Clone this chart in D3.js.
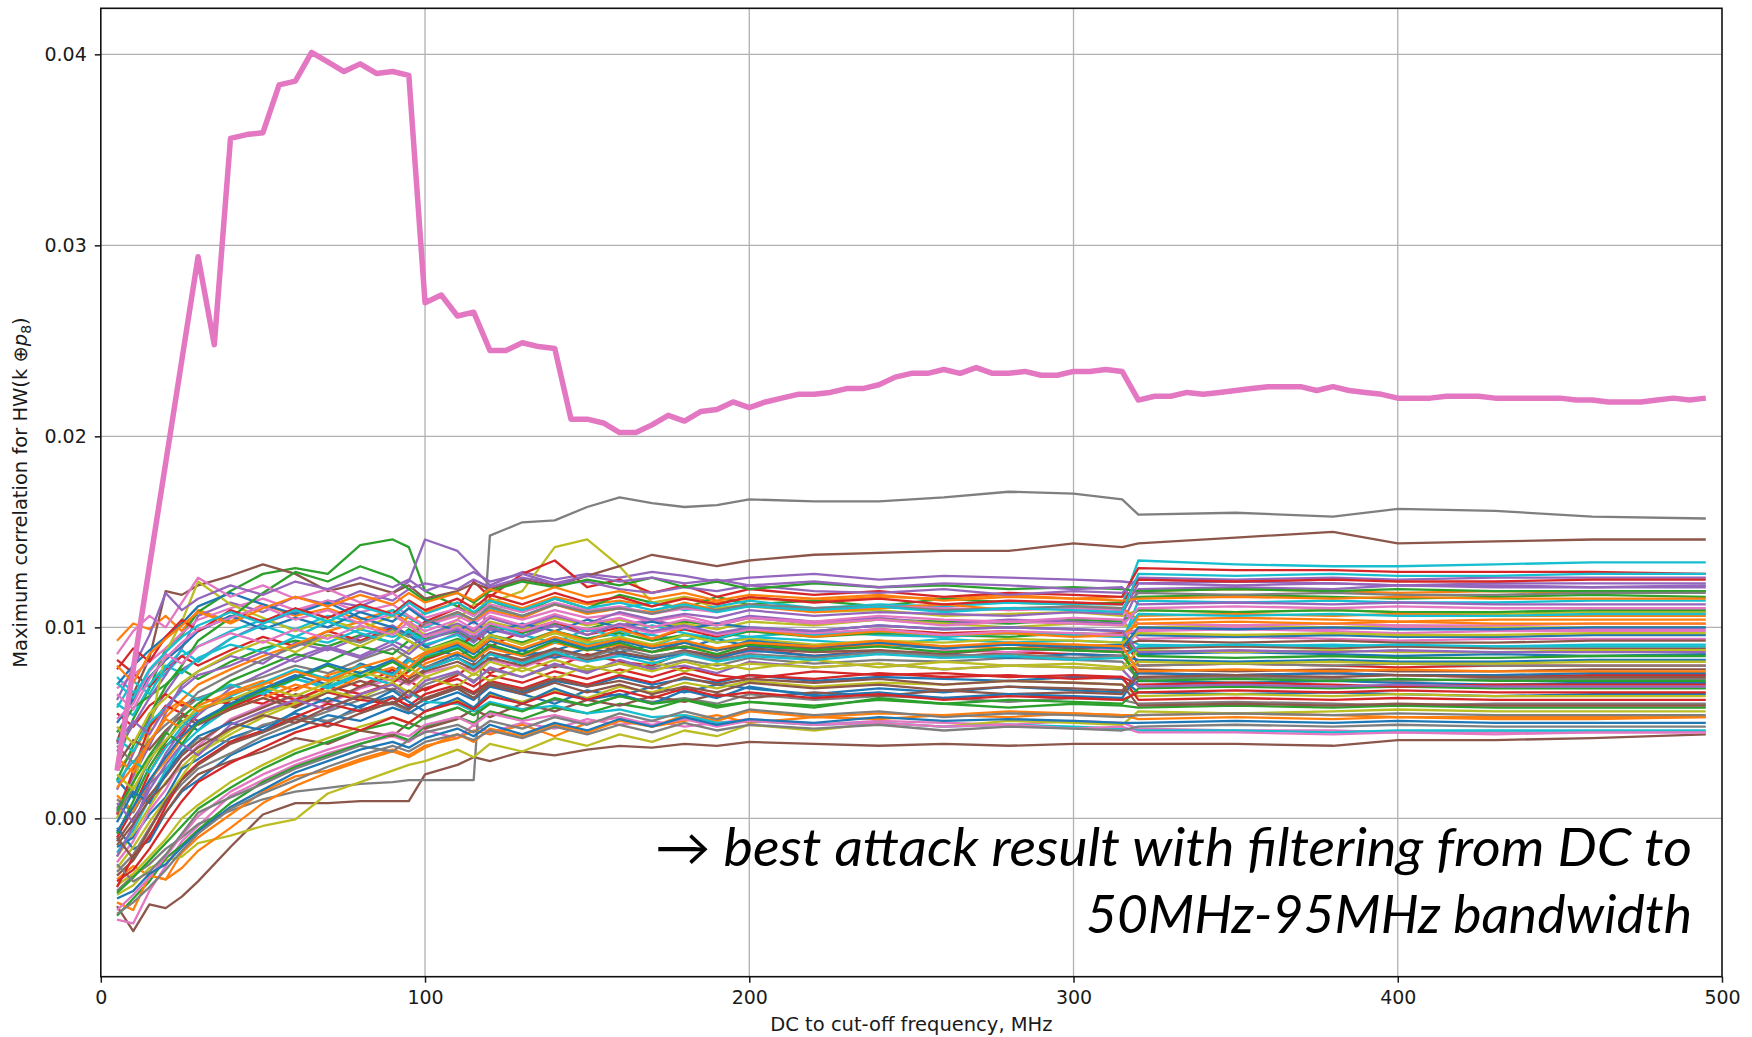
<!DOCTYPE html>
<html>
<head>
<meta charset="utf-8">
<script src="https://cdn.jsdelivr.net/npm/d3@7"></script>
<style>
  body { margin: 0; background: #fff; }
  svg { display: block; }
  .axis text { font-family: "DejaVu Sans", sans-serif; font-size: 19px; fill: #1a1a1a; }
  .axis path, .axis line { stroke: #1a1a1a; }
</style>
</head>
<body>
<div id="chart"></div>
<script>
// cut-off frequencies (MHz) of the correct key guess trace
const keyFreqs = [
  5, 10, 15, 20, 25, 30, 35, 40, 45, 50, 55, 60, 65, 70, 75, 80, 85, 90, 95, 100,
  105, 110, 115, 120, 125, 130, 135, 140, 145, 150, 155, 160, 165, 170, 175, 180, 185, 190, 195, 200,
  205, 210, 215, 220, 225, 230, 235, 240, 245, 250, 255, 260, 265, 270, 275, 280, 285, 290, 295, 300,
  305, 310, 315, 320, 325, 330, 335, 340, 345, 350, 355, 360, 365, 370, 375, 380, 385, 390, 395, 400,
  405, 410, 415, 420, 425, 430, 435, 440, 445, 450, 455, 460, 465, 470, 475, 480, 485, 490, 495
];
const keyCorr = [
  .0025, .0078, .0132, .0186, .0240, .0294, .0248, .0356, .0358, .0359, .0384, .0386, .0401, .0396, .0391, .0395, .0390, .0391, .0389, .0270,
  .0274, .0263, .0265, .0245, .0245, .0249, .0247, .0246, .0209, .0209, .0207, .0202, .0202, .0206, .0211, .0208, .0213, .0214, .0218, .0215,
  .0218, .0220, .0222, .0222, .0223, .0225, .0225, .0227, .0231, .0233, .0233, .0235, .0233, .0236, .0233, .0233, .0234, .0232, .0232, .0234,
  .0234, .0235, .0234, .0219, .0221, .0221, .0223, .0222, .0223, .0224, .0225, .0226, .0226, .0226, .0224, .0226, .0224, .0223, .0222, .0220,
  .0220, .0220, .0221, .0221, .0221, .0220, .0220, .0220, .0220, .0220, .0219, .0219, .0218, .0218, .0218, .0219, .0220, .0219, .0220
];

// wrong key guesses, read at a coarser set of frequencies
const guessFreqs = [5, 10, 15, 20, 25, 30, 40, 50, 60, 70, 80, 90, 95, 100,
  110, 115, 120, 130, 140, 150, 160, 170, 180, 190, 200, 220, 240, 260, 280, 300, 315,
  320, 350, 380, 400, 430, 460, 495];
const guessUnit = 1e-3; // values below are correlation x 1000
const guessCorr = [
  [2.0, 1.1, 3.2, 4.0, 5.1, 4.6, 6.2, 6.8, 7.5, 7.0, 8.1, 7.6, 8.4, 7.9, 8.6, 8.2, 9.0, 8.5, 8.8, 9.3, 8.7, 9.1, 8.9, 9.4, 9.0, 8.8, 9.1, 8.9, 9.2, 9.0, 9.1, 8.6, 8.7, 8.6, 8.5, 8.6, 8.5, 8.6],
  [9.3, 10.2, 9.9, 10.6, 9.8, 10.9, 10.3, 11.2, 10.6, 11.0, 10.4, 10.9, 10.2, 10.8, 11.3, 10.7, 11.5, 11.0, 11.6, 11.2, 11.4, 11.1, 11.6, 11.3, 11.5, 11.4, 11.6, 11.5, 11.7, 11.5, 11.6, 11.9, 12.0, 11.9, 11.8, 11.9, 11.8, 11.9],
  [3.0, 5.2, 6.8, 8.9, 9.6, 10.8, 11.9, 12.8, 13.1, 12.8, 14.3, 14.6, 14.2, 11.9, 11.1, 10.6, 11.4, 10.8, 11.5, 11.0, 11.7, 11.3, 11.0, 11.6, 11.2, 11.4, 11.1, 11.5, 11.3, 11.2, 11.3, 11.6, 11.7, 11.6, 11.5, 11.6, 11.7, 11.6],
  [-1.0, 0.5, 2.4, 3.8, 4.4, 5.6, 6.3, 6.0, 6.8, 7.4, 6.9, 7.8, 7.2, 6.7, 7.5, 8.1, 7.6, 8.3, 7.9, 8.6, 8.2, 8.0, 8.7, 8.3, 8.9, 8.5, 8.8, 8.4, 8.7, 8.6, 8.5, 7.6, 7.5, 7.6, 7.5, 7.4, 7.5, 7.5],
  [1.5, 3.4, 5.2, 6.6, 7.8, 8.3, 9.4, 10.2, 10.8, 11.4, 11.1, 11.8, 12.4, 14.6, 14.0, 13.1, 12.2, 12.9, 12.5, 12.8, 12.6, 12.9, 12.7, 12.4, 12.6, 12.8, 12.5, 12.7, 12.6, 12.5, 12.4, 12.3, 12.2, 12.3, 12.2, 12.2, 12.1, 12.2],
  [-4.6, -5.9, -4.5, -4.7, -4.1, -3.3, -1.5, 0.2, 0.8, 0.8, 0.9, 0.9, 0.9, 2.3, 2.8, 3.2, 3.0, 3.5, 3.3, 3.6, 3.8, 3.7, 3.9, 3.8, 4.0, 3.9, 3.8, 3.9, 3.8, 3.9, 3.9, 3.9, 3.9, 3.8, 4.1, 4.1, 4.2, 4.4],
  [-5.3, -5.5, -3.8, -2.5, -1.2, -0.4, 1.2, 2.0, 2.8, 3.4, 3.9, 4.3, 4.0, 4.6, 4.2, 4.9, 4.5, 5.0, 4.7, 5.2, 4.9, 5.1, 4.8, 5.0, 5.2, 4.9, 5.1, 5.0, 4.9, 5.1, 5.0, 4.7, 4.6, 4.6, 4.5, 4.5, 4.5, 4.5],
  [-3.8, -3.0, -2.4, -1.6, -1.0, -0.3, 0.4, 1.0, 1.4, 1.6, 1.8, 1.9, 2.0, 2.0, 2.0, 2.0, 14.8, 15.5, 15.6, 16.3, 16.8, 16.5, 16.3, 16.4, 16.7, 16.6, 16.6, 16.8, 17.1, 17.0, 16.7, 15.9, 16.0, 15.8, 16.2, 16.1, 15.8, 15.7],
  [-2.0, -0.8, 0.6, 1.9, 2.7, 3.5, 4.6, 5.5, 6.1, 6.9, 7.6, 8.2, 8.8, 9.3, 10.4, 11.2, 11.3, 11.9, 14.2, 14.6, 13.2, 11.3, 11.6, 11.0, 11.2, 10.8, 10.9, 10.6, 10.7, 10.8, 10.6, 10.9, 10.8, 10.9, 10.8, 10.7, 10.8, 10.8],
  [6.0, 5.4, 6.9, 7.6, 8.5, 9.0, 9.8, 10.4, 9.9, 10.6, 10.2, 10.9, 10.5, 10.0, 10.7, 10.4, 11.0, 10.6, 11.2, 10.8, 11.0, 11.3, 10.9, 11.1, 11.4, 11.0, 11.2, 11.1, 11.3, 11.2, 11.2, 13.5, 13.3, 13.2, 13.2, 13.3, 13.4, 13.4],
  [-1.5, -1.0, 0.2, 1.1, 2.6, 3.1, 4.2, 4.8, 5.5, 5.0, 5.9, 6.4, 5.8, 6.2, 6.8, 6.3, 7.0, 6.6, 7.2, 6.9, 7.4, 7.0, 7.3, 7.1, 7.5, 7.2, 7.4, 7.3, 7.2, 7.4, 7.3, 6.6, 6.5, 6.6, 6.5, 6.4, 6.5, 6.5],
  [-3.2, -2.5, -3.0, -3.2, -1.8, -1.0, 0.2, 1.4, 2.2, 2.5, 3.1, 3.6, 3.3, 3.8, 4.2, 4.6, 4.4, 4.9, 4.3, 5.0, 5.3, 4.8, 5.1, 5.4, 5.0, 5.3, 5.2, 5.4, 5.3, 5.5, 5.4, 5.4, 5.5, 5.4, 5.3, 5.3, 5.3, 5.3],
  [4.5, 5.8, 6.4, 7.0, 7.8, 7.3, 8.2, 8.9, 9.3, 9.0, 9.6, 9.2, 9.9, 9.4, 9.8, 9.3, 10.1, 9.7, 10.2, 9.9, 10.4, 10.0, 10.3, 10.1, 10.5, 10.2, 10.4, 10.3, 10.2, 10.4, 10.3, 10.9, 10.8, 10.9, 10.8, 10.8, 10.9, 10.9],
  [8.3, 7.6, 6.9, 7.8, 8.5, 8.0, 8.8, 9.5, 9.0, 9.8, 9.3, 10.0, 9.6, 10.3, 11.0, 12.4, 11.6, 12.8, 13.5, 12.1, 12.5, 11.8, 12.2, 11.6, 12.0, 11.7, 11.9, 11.6, 11.8, 11.7, 11.6, 13.1, 13.0, 13.0, 12.9, 12.9, 12.9, 12.8],
  [0.5, 2.2, 3.8, 5.5, 7.0, 7.7, 8.5, 8.1, 9.2, 8.8, 9.5, 10.1, 9.6, 9.0, 9.7, 9.2, 9.9, 9.5, 10.3, 9.8, 10.1, 10.4, 10.0, 10.2, 10.6, 10.3, 10.5, 10.2, 10.4, 10.3, 10.2, 12.0, 12.1, 12.0, 12.2, 12.1, 12.1, 12.1],
  [4.0, 6.5, 8.4, 11.9, 11.7, 12.2, 12.7, 13.3, 12.8, 11.9, 12.3, 11.8, 12.2, 11.5, 11.9, 12.3, 12.0, 12.5, 12.2, 12.7, 13.2, 13.8, 13.5, 13.2, 13.5, 13.8, 13.9, 14.0, 14.0, 14.4, 14.2, 14.4, 14.7, 15.0, 14.4, 14.5, 14.6, 14.6],
  [-2.3, -1.2, 0.4, 1.5, 3.0, 3.8, 5.2, 5.9, 6.4, 6.0, 6.8, 7.3, 7.0, 7.6, 8.0, 7.7, 8.3, 7.9, 8.5, 8.2, 8.6, 8.4, 8.8, 8.5, 8.7, 8.9, 8.6, 8.8, 8.7, 8.9, 8.8, 9.8, 9.9, 9.8, 9.7, 9.8, 9.8, 9.8],
  [1.0, 0.3, 1.8, 2.6, 3.4, 4.2, 4.0, 4.9, 5.3, 5.1, 5.7, 6.0, 5.6, 5.2, 5.8, 5.4, 6.0, 5.7, 6.2, 5.9, 6.4, 6.1, 6.3, 6.0, 6.5, 6.2, 6.4, 6.3, 6.1, 6.3, 6.2, 6.0, 6.1, 6.0, 5.9, 6.0, 6.0, 6.0],
  [-4.0, -3.5, -2.6, -2.2, -2.0, -1.3, -0.9, -0.4, -0.05, 1.3, 1.9, 2.5, 2.8, 3.0, 3.6, 3.2, 3.9, 3.5, 4.2, 3.8, 4.4, 4.0, 4.6, 4.3, 4.9, 4.6, 5.0, 4.8, 5.1, 5.0, 4.9, 5.6, 5.5, 5.6, 5.7, 5.6, 5.6, 5.6],
  [7.4, 6.6, 7.0, 8.0, 7.6, 8.4, 9.1, 8.7, 9.5, 9.2, 9.9, 9.5, 9.8, 9.1, 9.6, 9.0, 9.5, 9.2, 9.7, 9.4, 9.8, 9.6, 9.3, 9.7, 9.5, 9.8, 9.6, 9.5, 9.7, 9.6, 9.5, 9.1, 9.0, 9.1, 9.0, 9.0, 9.1, 9.1],
  [-0.5, -1.6, -1.2, 0.3, 1.4, 2.0, 3.3, 4.1, 4.7, 5.4, 5.1, 5.8, 5.5, 6.0, 6.6, 6.2, 6.9, 6.5, 6.0, 6.7, 6.4, 6.9, 6.6, 7.0, 6.8, 6.5, 6.8, 6.6, 6.9, 6.7, 6.6, 7.2, 7.1, 7.2, 7.1, 7.0, 7.1, 7.1],
  [2.5, 3.5, 4.8, 5.6, 6.2, 7.0, 7.8, 8.5, 9.1, 9.8, 10.3, 9.7, 10.6, 10.1, 10.8, 10.3, 10.9, 10.5, 11.2, 10.7, 11.0, 10.8, 11.3, 10.9, 11.1, 10.8, 11.0, 11.2, 10.9, 11.1, 11.0, 10.4, 10.5, 10.4, 10.3, 10.4, 10.4, 10.4],
  [-5.1, -4.2, -3.3, -2.1, -1.4, -0.6, 0.8, 1.9, 2.7, 3.3, 3.9, 4.4, 4.1, 4.8, 5.3, 5.0, 5.6, 5.2, 5.8, 5.5, 6.0, 5.7, 6.2, 5.9, 6.1, 5.8, 6.3, 6.0, 6.2, 6.1, 6.0, 6.8, 6.9, 6.8, 6.9, 6.8, 6.8, 6.8],
  [5.5, 4.8, 5.9, 6.5, 5.9, 6.3, 6.0, 6.7, 6.2, 6.9, 6.5, 7.1, 7.7, 8.3, 8.9, 9.6, 9.0, 9.8, 10.3, 9.6, 10.0, 9.4, 9.9, 9.5, 9.8, 9.6, 9.9, 9.7, 9.8, 9.6, 9.7, 8.0, 8.1, 8.0, 7.9, 8.0, 8.0, 8.0],
  [3.5, 4.9, 6.3, 7.5, 8.9, 10.6, 11.3, 10.8, 11.6, 11.2, 11.9, 11.4, 12.0, 12.3, 12.0, 12.5, 12.1, 12.6, 12.3, 12.4, 12.0, 11.8, 12.1, 11.9, 12.2, 11.9, 11.8, 12.0, 11.7, 11.9, 11.8, 12.6, 12.5, 12.6, 12.5, 12.6, 12.6, 12.6],
  [-3.0, -2.2, -0.9, 0.3, 1.5, 2.3, 3.0, 3.5, 4.2, 3.9, 4.6, 4.3, 5.0, 4.7, 5.2, 5.7, 5.3, 6.0, 5.6, 6.2, 5.9, 6.4, 6.1, 6.5, 6.3, 6.6, 6.4, 6.7, 6.5, 6.6, 6.5, 7.8, 7.7, 7.8, 7.7, 7.7, 7.8, 7.8],
  [6.8, 7.5, 8.2, 8.9, 9.7, 10.4, 11.0, 11.5, 10.9, 11.4, 10.8, 11.2, 10.6, 10.1, 10.6, 10.2, 10.8, 10.4, 10.9, 10.5, 10.7, 10.3, 10.6, 10.2, 10.5, 10.3, 10.6, 10.4, 10.3, 10.5, 10.4, 9.4, 9.5, 9.4, 9.3, 9.4, 9.4, 9.4],
  [-2.8, -1.9, -0.5, 0.8, 1.8, 2.6, 3.4, 4.3, 5.0, 5.6, 6.2, 6.8, 6.3, 7.0, 7.6, 7.2, 7.8, 7.4, 8.0, 7.7, 8.1, 7.9, 8.3, 8.0, 8.4, 8.1, 8.3, 8.2, 8.4, 8.3, 8.2, 7.3, 7.4, 7.3, 7.2, 7.3, 7.3, 7.3],
  [0.0, 1.8, 4.5, 8.7, 10.3, 12.4, 11.2, 10.5, 9.8, 10.4, 9.9, 10.6, 10.2, 9.6, 10.1, 9.7, 10.3, 9.9, 10.5, 10.1, 10.4, 10.0, 10.2, 9.9, 10.3, 10.1, 10.4, 10.2, 10.0, 10.2, 10.1, 10.0, 10.1, 10.0, 10.1, 10.0, 10.0, 10.0],
  [-1.8, -0.6, 1.0, 2.5, 3.8, 4.6, 5.8, 6.6, 7.3, 6.9, 7.6, 8.2, 7.8, 8.5, 9.0, 8.6, 9.3, 8.8, 9.5, 9.1, 9.4, 9.0, 9.6, 9.2, 9.5, 9.3, 9.1, 9.4, 9.2, 9.3, 9.2, 11.4, 11.3, 11.4, 11.3, 11.3, 11.4, 11.4],
  [7.0, 8.0, 8.8, 9.5, 10.2, 11.1, 11.8, 11.2, 10.7, 11.3, 10.5, 10.0, 9.6, 9.0, 8.5, 8.9, 8.3, 8.8, 8.4, 8.9, 8.6, 8.3, 8.7, 8.4, 8.8, 8.5, 8.7, 8.6, 8.4, 8.6, 8.5, 8.3, 8.2, 8.3, 8.2, 8.2, 8.3, 8.3],
  [-4.4, -4.8, -3.0, -3.2, -2.6, -1.7, -0.5, 0.8, 1.7, 2.4, 3.0, 3.5, 3.2, 3.7, 4.4, 4.0, 4.7, 4.3, 4.9, 4.5, 5.1, 4.8, 5.4, 5.1, 5.6, 5.3, 5.5, 5.4, 5.6, 5.5, 5.4, 5.2, 5.3, 5.2, 5.3, 5.2, 5.2, 5.3],
  [2.0, 3.8, 5.4, 6.9, 8.0, 9.3, 10.5, 11.8, 12.9, 12.4, 13.2, 12.6, 12.0, 11.4, 11.8, 11.3, 11.9, 12.4, 12.1, 12.5, 12.2, 12.6, 12.1, 12.4, 12.0, 12.3, 12.1, 12.2, 12.0, 12.1, 12.0, 11.9, 12.0, 11.9, 12.0, 11.9, 11.9, 11.9],
  [0.2, 2.5, 4.8, 5.9, 5.5, 5.1, 5.8, 6.5, 5.9, 6.6, 6.2, 6.0, 6.4, 6.8, 7.3, 6.9, 7.5, 7.1, 7.7, 7.3, 7.8, 7.4, 7.9, 7.5, 7.3, 7.7, 7.5, 7.6, 7.4, 7.5, 7.4, 7.0, 7.1, 7.0, 6.9, 7.0, 7.0, 7.0],
  [-2.0, -0.4, 1.8, 3.4, 4.6, 5.4, 6.8, 7.6, 8.4, 9.0, 8.5, 9.3, 8.9, 9.6, 10.2, 9.8, 10.5, 10.0, 10.6, 10.2, 10.8, 10.4, 10.7, 10.5, 10.9, 10.6, 10.8, 10.7, 10.6, 10.8, 10.7, 12.3, 12.4, 12.3, 12.2, 12.3, 12.3, 12.3],
  [-1.2, 0.0, 1.2, 2.2, 3.3, 4.0, 5.1, 5.8, 6.5, 6.1, 6.9, 7.5, 7.1, 7.7, 8.2, 7.8, 8.4, 8.0, 8.6, 8.3, 8.7, 8.4, 8.8, 8.5, 8.9, 8.7, 8.8, 8.6, 8.9, 8.8, 8.7, 8.9, 9.0, 8.9, 9.0, 8.9, 8.9, 8.9],
  [8.6, 9.8, 10.6, 10.0, 11.3, 12.6, 11.6, 12.2, 11.5, 12.0, 11.3, 11.8, 11.1, 10.5, 11.0, 10.6, 11.2, 10.8, 11.3, 10.9, 11.1, 10.7, 11.0, 10.8, 11.2, 10.9, 11.1, 11.0, 10.9, 11.0, 10.9, 10.2, 10.1, 10.2, 10.1, 10.1, 10.2, 10.2],
  [3.8, 2.9, 4.1, 4.9, 5.6, 6.3, 6.9, 7.4, 8.0, 7.6, 8.3, 8.9, 8.4, 7.9, 8.4, 8.0, 8.6, 8.2, 8.8, 8.4, 8.9, 8.5, 8.7, 8.3, 8.6, 8.4, 8.7, 8.5, 8.6, 8.4, 8.5, 8.0, 8.1, 8.0, 8.1, 8.0, 8.0, 8.0],
  [-3.5, -2.9, -2.0, -1.1, 0.0, 0.7, 1.9, 2.8, 3.6, 4.2, 4.8, 5.3, 5.0, 5.6, 6.2, 5.8, 6.5, 6.1, 6.7, 6.3, 6.9, 6.6, 7.1, 6.8, 7.2, 6.9, 7.1, 7.0, 7.2, 7.1, 7.0, 6.4, 6.5, 6.4, 6.5, 6.4, 6.4, 6.4],
  [4.2, 3.5, 5.0, 5.8, 6.7, 6.2, 7.0, 6.5, 7.3, 6.8, 7.5, 7.0, 6.6, 6.1, 6.0, 5.6, 6.1, 5.7, 5.9, 5.5, 5.7, 5.3, 5.4, 5.0, 5.1, 4.9, 5.0, 4.8, 4.9, 4.8, 4.7, 4.6, 4.6, 4.5, 4.6, 4.6, 4.6, 4.6],
  [5.0, 6.2, 7.4, 8.3, 9.0, 9.8, 10.6, 9.9, 10.5, 10.0, 10.8, 10.3, 11.0, 10.4, 9.8, 10.3, 9.7, 10.2, 9.8, 10.4, 10.0, 10.3, 9.9, 10.2, 10.0, 9.8, 10.1, 9.9, 10.0, 9.9, 9.8, 9.6, 9.5, 9.6, 9.5, 9.5, 9.6, 9.6],
  [1.2, 0.4, 2.0, 3.0, 4.2, 5.0, 5.7, 6.3, 7.0, 6.6, 7.4, 7.9, 7.4, 8.1, 8.7, 8.3, 8.9, 8.5, 9.2, 8.8, 9.1, 8.7, 9.0, 8.8, 9.2, 8.9, 9.1, 9.0, 8.9, 9.1, 9.0, 10.6, 10.7, 10.6, 10.7, 10.6, 10.6, 10.6],
  [-0.8, 0.9, 2.7, 4.0, 5.3, 6.0, 7.2, 7.9, 8.6, 8.2, 9.0, 8.6, 9.3, 8.8, 9.4, 9.0, 9.6, 9.2, 9.8, 9.4, 9.7, 9.3, 9.6, 9.4, 9.8, 9.5, 9.7, 9.6, 9.5, 9.7, 9.6, 8.5, 8.4, 8.5, 8.4, 8.4, 8.5, 8.5],
  [-3.6, -2.0, -1.0, 0.6, 2.1, 2.9, 4.0, 4.6, 5.3, 6.0, 5.6, 6.3, 5.9, 6.5, 7.0, 6.6, 7.2, 6.8, 7.4, 7.0, 7.5, 7.1, 7.6, 7.2, 7.5, 7.3, 7.6, 7.4, 7.5, 7.3, 7.4, 6.2, 6.3, 6.2, 6.3, 6.2, 6.2, 6.2],
  [6.2, 7.9, 9.6, 11.8, 10.9, 11.5, 12.2, 11.7, 12.4, 12.0, 12.6, 12.1, 12.5, 11.9, 12.5, 12.9, 12.4, 12.8, 12.3, 12.7, 12.4, 12.6, 12.3, 12.5, 12.2, 12.4, 12.1, 12.3, 12.2, 12.0, 12.1, 11.2, 11.3, 11.2, 11.3, 11.2, 11.2, 11.2],
  [2.8, 4.1, 3.6, 4.6, 5.4, 4.9, 5.7, 6.3, 5.8, 6.6, 7.2, 6.7, 7.3, 7.8, 8.4, 8.0, 8.7, 8.3, 8.9, 8.5, 9.0, 8.7, 9.2, 8.8, 9.1, 8.9, 9.2, 9.0, 9.1, 8.9, 9.0, 9.3, 9.2, 9.3, 9.2, 9.2, 9.3, 9.3],
  [-4.8, -4.0, -3.1, -2.0, -0.9, 0.1, 1.4, 2.3, 3.0, 3.6, 4.1, 4.5, 4.3, 4.9, 5.3, 4.9, 5.5, 5.1, 5.4, 5.0, 5.3, 4.9, 5.2, 4.8, 5.1, 4.9, 5.0, 4.8, 4.9, 4.7, 4.8, 4.5, 4.5, 4.4, 4.5, 4.4, 4.5, 4.5],
  [0.3, 1.5, 3.0, 4.4, 5.7, 6.6, 7.5, 8.3, 9.0, 9.6, 9.2, 9.9, 9.5, 10.2, 10.8, 10.4, 11.1, 10.6, 11.2, 10.8, 11.0, 10.7, 11.1, 10.9, 11.2, 11.0, 11.1, 10.9, 11.0, 11.1, 11.0, 11.8, 11.7, 11.8, 11.7, 11.7, 11.8, 11.8],
  [-2.6, -1.5, -0.2, 1.0, 2.2, 3.4, 4.4, 5.3, 6.0, 6.7, 6.3, 7.1, 6.6, 7.4, 6.9, 7.6, 7.2, 7.9, 7.3, 8.0, 7.6, 8.2, 7.7, 8.1, 7.8, 8.3, 7.9, 8.2, 8.0, 8.1, 7.9, 8.8, 8.7, 8.8, 8.7, 8.7, 8.8, 8.8],
  [5.8, 7.2, 6.5, 7.9, 8.8, 8.2, 9.4, 10.1, 9.5, 10.3, 9.7, 9.2, 9.8, 9.3, 10.0, 9.4, 10.2, 9.6, 9.2, 9.9, 9.5, 10.1, 9.7, 9.4, 9.9, 9.6, 9.8, 9.5, 9.7, 9.6, 9.5, 10.7, 10.6, 10.7, 10.6, 10.6, 10.7, 10.7],
  [-0.2, 1.4, 0.8, 2.3, 3.5, 4.3, 5.0, 4.6, 5.6, 6.3, 5.8, 6.7, 6.1, 5.6, 6.3, 5.8, 6.6, 6.0, 6.8, 6.2, 6.5, 6.0, 6.7, 6.3, 6.9, 6.4, 6.6, 6.3, 6.5, 6.4, 6.3, 7.6, 7.5, 7.6, 7.5, 7.5, 7.6, 7.6],
  [3.2, 2.4, 4.0, 5.2, 4.7, 5.9, 6.6, 7.2, 6.7, 7.5, 8.0, 7.4, 8.2, 8.7, 9.3, 8.8, 9.6, 9.1, 9.8, 9.3, 9.9, 9.4, 10.0, 9.6, 9.9, 9.5, 9.8, 9.6, 9.7, 9.5, 9.6, 10.2, 10.3, 10.2, 10.3, 10.2, 10.2, 10.2],
  [-3.9, -3.1, -2.2, -1.3, -0.4, 0.5, 1.6, 2.6, 3.4, 4.0, 4.6, 5.0, 4.7, 5.3, 5.8, 5.4, 6.0, 5.6, 6.3, 5.9, 6.4, 6.0, 6.2, 5.8, 6.1, 5.9, 6.2, 6.0, 5.8, 6.0, 5.9, 5.8, 5.9, 5.8, 5.9, 5.8, 5.8, 5.8],
  [7.8, 8.9, 8.2, 9.5, 10.4, 9.8, 10.9, 10.3, 11.0, 10.5, 11.2, 10.7, 11.4, 10.9, 11.5, 11.0, 11.7, 11.2, 11.8, 11.3, 11.6, 11.1, 11.5, 11.2, 11.6, 11.3, 11.5, 11.2, 11.4, 11.3, 11.2, 12.5, 12.4, 12.5, 12.4, 12.4, 12.5, 12.5],
  [0.8, -0.2, 1.5, 2.8, 3.9, 3.3, 4.9, 5.6, 6.2, 5.7, 6.5, 7.0, 6.4, 7.2, 7.7, 7.1, 7.9, 7.4, 8.1, 7.6, 8.3, 7.8, 8.0, 7.6, 8.2, 7.9, 8.1, 7.8, 8.0, 7.9, 7.8, 6.9, 7.0, 6.9, 7.0, 6.9, 6.9, 6.9],
  [-1.0, -2.1, -0.6, 0.9, 2.0, 2.8, 3.9, 4.5, 5.2, 4.8, 5.5, 6.1, 5.7, 6.3, 6.9, 6.5, 7.1, 6.7, 7.3, 6.9, 7.2, 6.8, 7.4, 7.0, 7.3, 7.1, 7.3, 7.0, 7.2, 7.1, 7.0, 5.9, 6.0, 5.9, 6.0, 5.9, 5.9, 5.9],
  [6.5, 5.7, 7.3, 8.4, 9.2, 9.9, 10.5, 11.1, 10.4, 10.9, 10.2, 10.7, 10.1, 9.5, 10.0, 9.6, 10.2, 9.8, 10.3, 9.9, 10.1, 9.7, 10.0, 9.6, 9.9, 9.7, 9.9, 9.6, 9.8, 9.7, 9.6, 9.9, 10.0, 9.9, 10.0, 9.9, 9.9, 9.9],
  [-2.4, -3.3, -2.8, -1.9, -0.8, 0.3, 1.1, 1.8, 2.6, 3.2, 3.8, 3.5, 4.1, 4.5, 4.9, 4.5, 5.1, 4.7, 5.3, 4.9, 5.5, 5.1, 5.6, 5.2, 5.7, 5.4, 5.6, 5.3, 5.5, 5.4, 5.3, 5.4, 5.5, 5.4, 5.5, 5.4, 5.4, 5.4],
  [4.8, 3.9, 5.5, 6.3, 7.1, 7.7, 8.6, 9.3, 8.7, 9.6, 9.0, 9.8, 9.3, 8.8, 9.3, 8.9, 9.6, 9.1, 9.7, 9.2, 9.5, 9.1, 9.6, 9.2, 9.4, 9.1, 9.3, 9.2, 9.4, 9.3, 9.2, 9.7, 9.6, 9.7, 9.6, 9.6, 9.7, 9.7],
  [1.9, 3.0, 2.4, 3.7, 4.8, 5.6, 6.4, 7.1, 7.8, 7.3, 8.0, 7.5, 8.3, 7.8, 8.4, 7.9, 8.6, 8.1, 8.7, 8.2, 8.5, 8.1, 8.6, 8.2, 8.5, 8.3, 8.6, 8.4, 8.5, 8.3, 8.4, 9.0, 9.1, 9.0, 9.1, 9.0, 9.0, 9.0],
  [-4.2, -3.8, -2.9, -2.4, -1.5, -0.7, 0.6, 1.5, 2.4, 3.0, 3.6, 4.0, 3.7, 4.2, 4.7, 4.3, 4.9, 4.4, 5.0, 4.6, 5.2, 4.8, 5.3, 4.9, 5.2, 5.0, 5.3, 5.1, 5.2, 5.1, 5.0, 5.0, 5.1, 5.0, 5.1, 5.0, 5.0, 5.0],
  [8.0, 7.1, 8.6, 9.4, 10.1, 10.8, 10.2, 11.0, 11.6, 11.1, 11.7, 11.2, 11.8, 11.3, 11.8, 11.4, 12.0, 11.5, 12.1, 11.6, 11.9, 11.5, 11.8, 11.4, 11.7, 11.5, 11.7, 11.4, 11.6, 11.5, 11.4, 11.5, 11.6, 11.5, 11.6, 11.5, 11.5, 11.5],
  [0.4, 1.9, 3.3, 4.5, 3.9, 5.0, 5.9, 6.7, 7.3, 8.0, 7.4, 8.2, 7.7, 8.4, 8.9, 8.4, 9.1, 8.6, 9.3, 8.8, 9.2, 8.7, 9.0, 8.6, 9.1, 8.8, 9.0, 8.7, 8.9, 8.8, 8.7, 7.2, 7.3, 7.2, 7.3, 7.2, 7.2, 7.2],
  [-3.3, -2.7, -1.6, -0.3, 0.9, 1.9, 2.9, 3.7, 4.5, 5.0, 4.6, 5.3, 5.0, 5.6, 6.1, 5.7, 6.4, 6.0, 6.6, 6.2, 6.7, 6.3, 6.8, 6.4, 6.6, 6.3, 6.5, 6.2, 6.4, 6.3, 6.2, 6.6, 6.7, 6.6, 6.7, 6.6, 6.6, 6.6],
  [3.9, 5.1, 4.4, 5.8, 6.8, 7.5, 8.0, 8.7, 8.2, 8.9, 8.4, 9.1, 8.6, 9.3, 9.9, 9.4, 10.0, 9.5, 10.1, 9.6, 10.2, 9.8, 10.1, 9.7, 10.0, 9.8, 10.1, 9.9, 10.0, 9.9, 9.8, 8.7, 8.8, 8.7, 8.8, 8.7, 8.7, 8.7],
  [-1.4, -0.3, 1.0, 1.8, 3.0, 3.7, 4.7, 5.4, 5.0, 5.8, 6.4, 6.0, 6.7, 6.2, 6.8, 6.3, 7.0, 6.5, 7.1, 6.6, 7.0, 6.5, 6.9, 6.6, 7.1, 6.8, 7.0, 6.7, 6.9, 6.8, 6.7, 7.4, 7.5, 7.4, 7.5, 7.4, 7.4, 7.4],
  [5.2, 6.0, 7.7, 8.6, 8.1, 9.0, 9.7, 9.2, 9.9, 9.4, 10.1, 9.6, 10.3, 9.8, 10.4, 9.9, 10.6, 10.1, 10.7, 10.2, 10.5, 10.0, 10.4, 10.1, 10.5, 10.2, 10.4, 10.1, 10.3, 10.2, 10.1, 11.0, 11.1, 11.0, 11.1, 11.0, 11.0, 11.0],
  [-5.0, -4.4, -3.6, -2.7, -1.7, -0.8, 0.5, 1.3, 2.0, 2.7, 3.3, 3.8, 3.5, 4.0, 4.4, 4.1, 4.6, 4.2, 4.8, 4.4, 4.9, 4.5, 5.0, 4.6, 4.9, 4.7, 4.9, 4.6, 4.8, 4.7, 4.6, 4.8, 4.9, 4.8, 4.9, 4.8, 4.8, 4.8],
  [2.3, 1.5, 3.1, 4.1, 5.0, 5.8, 6.2, 6.9, 6.4, 7.1, 7.7, 7.2, 7.9, 7.4, 8.0, 7.5, 8.2, 7.7, 8.3, 7.8, 8.1, 7.7, 8.2, 7.8, 8.1, 7.9, 8.1, 7.8, 8.0, 7.9, 7.8, 8.2, 8.1, 8.2, 8.1, 8.1, 8.2, 8.2],
  [7.1, 6.3, 7.8, 8.7, 9.5, 10.1, 10.8, 10.2, 10.9, 10.3, 11.1, 10.6, 11.3, 10.7, 11.3, 10.8, 11.4, 10.9, 11.5, 11.0, 11.3, 10.9, 11.2, 10.8, 11.1, 10.9, 11.1, 10.8, 11.0, 10.9, 10.8, 12.8, 12.7, 12.8, 12.7, 12.7, 12.8, 12.8],
  [-0.7, 0.6, 2.0, 3.2, 4.3, 5.1, 6.0, 6.8, 7.4, 8.1, 7.6, 8.3, 7.9, 8.6, 9.1, 8.6, 9.3, 8.8, 9.4, 8.9, 9.3, 8.9, 9.2, 8.8, 9.3, 9.0, 9.2, 8.9, 9.1, 9.0, 8.9, 10.0, 9.9, 10.0, 9.9, 9.9, 10.0, 10.0],
  [1.6, 2.7, 4.0, 5.3, 6.1, 5.6, 6.5, 7.0, 7.7, 7.2, 7.9, 8.4, 7.9, 8.6, 9.2, 8.7, 9.4, 8.9, 9.5, 9.0, 9.4, 9.0, 9.3, 8.9, 9.2, 9.0, 9.3, 9.0, 9.2, 9.1, 9.0, 7.7, 7.8, 7.7, 7.8, 7.7, 7.7, 7.7]
];

const xTicks = [0, 100, 200, 300, 400, 500];
const yTicks = [0.00, 0.01, 0.02, 0.03, 0.04];
const xLabel = "DC to cut-off frequency, MHz";
const noteLines = ["\u2192 best attack result with filtering from DC to", "50MHz-95MHz bandwidth"];

const width = 1752, height = 1037;
const plot = {left: 100.8, right: 1722, top: 8.3, bottom: 976.7};

const svg = d3.select("#chart").append("svg")
    .attr("width", width)
    .attr("height", height);

const x = d3.scaleLinear().domain([0, 500]).range([plot.left, plot.right]);
const y = d3.scaleLinear().domain([-0.00829, 0.04241]).range([plot.bottom, plot.top]);

// grid
svg.append("g")
    .selectAll("line")
    .data(xTicks.slice(1, -1))
    .join("line")
    .attr("x1", d => x(d)).attr("x2", d => x(d))
    .attr("y1", plot.top).attr("y2", plot.bottom)
    .attr("stroke", "#b0b0b0").attr("stroke-width", 1.3);
svg.append("g")
    .selectAll("line")
    .data(yTicks)
    .join("line")
    .attr("x1", plot.left).attr("x2", plot.right)
    .attr("y1", d => y(d)).attr("y2", d => y(d))
    .attr("stroke", "#b0b0b0").attr("stroke-width", 1.3);

// traces
const colors = d3.schemeCategory10;
const line = d3.line()
    .defined(d => Number.isFinite(d[1]))
    .x(d => x(d[0]))
    .y(d => y(d[1]));

svg.append("g")
    .attr("fill", "none")
    .attr("stroke-width", 2.3)
    .attr("stroke-linejoin", "round")
    .selectAll("path")
    .data(guessCorr)
    .join("path")
    .attr("stroke", (d, i) => colors[i % 10])
    .attr("d", vals => line(guessFreqs.map((f, j) => [f, vals[j] * guessUnit])));

svg.append("path")
    .attr("fill", "none")
    .attr("stroke", "#e377c2")
    .attr("stroke-width", 5.5)
    .attr("stroke-linejoin", "round")
    .attr("d", line(keyFreqs.map((f, j) => [f, keyCorr[j]])));

// axes
svg.append("g")
    .attr("class", "axis")
    .attr("transform", `translate(0,${plot.bottom})`)
    .call(d3.axisBottom(x).tickValues(xTicks).tickFormat(d3.format("d")).tickSize(6).tickPadding(8))
    .call(g => g.select(".domain").remove());
svg.append("g")
    .attr("class", "axis")
    .attr("transform", `translate(${plot.left},0)`)
    .call(d3.axisLeft(y).tickValues(yTicks).tickFormat(d3.format(".2f")).tickSize(6).tickPadding(8))
    .call(g => g.select(".domain").remove());
svg.selectAll(".axis .tick line").attr("stroke-width", 1.5);

svg.append("rect")
    .attr("x", plot.left).attr("y", plot.top)
    .attr("width", plot.right - plot.left).attr("height", plot.bottom - plot.top)
    .attr("fill", "none").attr("stroke", "#111").attr("stroke-width", 1.6);

// axis labels
svg.append("text")
    .attr("x", (plot.left + plot.right) / 2).attr("y", 1031)
    .attr("text-anchor", "middle")
    .style("font-family", "DejaVu Sans, sans-serif").style("font-size", "19.5px").style("fill", "#1a1a1a")
    .text(xLabel);

const yLab = svg.append("text")
    .attr("transform", `translate(27,${(plot.top + plot.bottom) / 2}) rotate(-90)`)
    .attr("text-anchor", "middle")
    .style("font-family", "DejaVu Sans, sans-serif").style("font-size", "19.5px").style("fill", "#1a1a1a");
yLab.append("tspan").text("Maximum correlation for HW(k \u2295");
yLab.append("tspan").style("font-style", "italic").text("p");
yLab.append("tspan").attr("dy", 4).style("font-size", "14px").text("8");
yLab.append("tspan").attr("dy", -4).text(")");

// slide annotation
svg.append("g")
    .selectAll("text")
    .data(noteLines)
    .join("text")
    .attr("x", 1692)
    .attr("y", (d, i) => i === 0 ? 866 : 933)
    .attr("text-anchor", "end")
    .attr("textLength", (d, i) => i === 0 ? 1037 : 606)
    .attr("lengthAdjust", "spacingAndGlyphs")
    .style("font-family", "Lato, 'Open Sans', sans-serif")
    .style("font-style", "italic")
    .style("font-weight", 400)
    .style("font-size", "52px")
    .style("fill", "#000")
    .text(d => d);
</script>
</body>
</html>
